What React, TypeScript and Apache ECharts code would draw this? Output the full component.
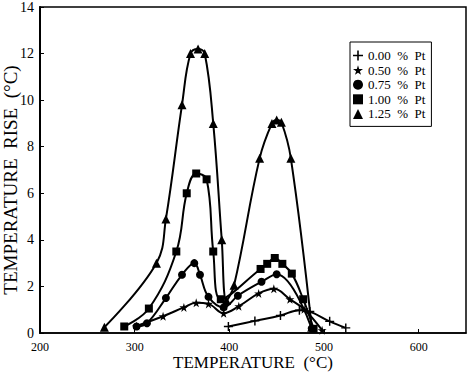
import React, { useEffect, useRef } from "react";
import * as echarts from "echarts";

const seriesNames = ["0.00  %  Pt", "0.50  %  Pt", "0.75  %  Pt", "1.00  %  Pt", "1.25  %  Pt"];

const pt000: [number, number][] = [
  [399, 0.28], [427, 0.52], [454, 0.75], [474, 0.98], [485, 0.92], [506, 0.5], [523, 0.22],
];
const pt050: [number, number][] = [
  [302, 0.3], [330, 0.72], [352, 1.1], [365, 1.3], [378, 1.25], [394, 0.85], [410, 1.15],
  [431, 1.7], [447, 1.9], [464, 1.45], [479, 1.02], [498, 0.12],
];
const pt075: [number, number][] = [
  [302, 0.28], [313, 0.42], [333, 1.5], [350, 2.5], [363, 3.0], [369, 2.5], [378, 1.55],
  [394, 1.1], [409, 1.6], [434, 2.2], [450, 2.52], [487, 0.2],
];
const pt100: [number, number][] = [
  [289, 0.28], [315, 1.05], [344, 3.5], [355, 6.0], [365, 6.85], [376, 6.6], [383, 3.5],
  [391, 1.45], [433, 2.75], [440, 2.97], [448, 3.22], [456, 2.97], [466, 2.55], [478, 1.45], [489, 0.18],
];
const pt125: [number, number][] = [
  [268, 0.25], [323, 3.0], [333, 4.9], [350, 9.8], [359, 12.0], [367, 12.2], [374, 12.0],
  [383, 9.0], [392, 4.0], [397, 1.4], [405, 2.05], [432, 7.5], [445, 9.0], [450, 9.15],
  [455, 9.05], [465, 7.5], [487, 0.25],
];

const xTicks = { min: 200, max: 650, interval: 100 };
const yTicks = { min: 0, max: 14, interval: 2 };

const PLUS = "path://M4.2,0 H5.8 V4.2 H10 V5.8 H5.8 V10 H4.2 V5.8 H0 V4.2 H4.2 Z";
const STAR =
  "path://M50,0 L61,35 L98,35 L68,57 L79,91 L50,70 L21,91 L32,57 L2,35 L39,35 Z";

const symbols = [PLUS, STAR, "circle", "rect", "triangle"];
const sizes = [9, 9, 8, 8, 9];
const datas = [pt000, pt050, pt075, pt100, pt125];

const FONT = "Liberation Serif";

export default function App() {
  const ref = useRef<HTMLDivElement>(null);
  useEffect(() => {
    if (!ref.current) return;
    const chart = echarts.init(ref.current, null, { renderer: "svg" });
    chart.setOption({
      animation: false,
      backgroundColor: "#fff",
      textStyle: { fontFamily: FONT, color: "#000" },
      grid: {
        left: 40, top: 7, right: 5, bottom: 41,
        outerBoundsMode: "none",
        containLabel: false,
        show: true, borderColor: "#000", borderWidth: 1.5,
      },
      legend: {
        left: 350, top: 42, orient: "vertical",
        data: seriesNames.map((n, i) => ({ name: n, icon: symbols[i] })),
        itemWidth: 10, itemHeight: 10, itemGap: 1.6,
        padding: [7, 6, 6, 3],
        borderColor: "#000", borderWidth: 1,
        textStyle: { fontFamily: FONT, fontSize: 13, lineHeight: 13, color: "#000" },
        itemStyle: { color: "#000" },
      },
      xAxis: {
        type: "value", min: xTicks.min, max: xTicks.max, interval: xTicks.interval,
        name: "TEMPERATURE  (°C)", nameLocation: "middle", nameGap: 21,
        nameMoveOverlap: false,
        nameTextStyle: { fontFamily: FONT, fontSize: 17, lineHeight: 17, color: "#000", verticalAlign: "top" },
        axisLine: { lineStyle: { color: "#000", width: 1.5 } },
        axisTick: { inside: true, length: 4, lineStyle: { color: "#000" } },
        axisLabel: { fontFamily: FONT, fontSize: 12, lineHeight: 12, color: "#000", margin: 8, showMaxLabel: false },
        splitLine: { show: false },
      },
      yAxis: {
        type: "value", min: yTicks.min, max: yTicks.max, interval: yTicks.interval,
        name: "TEMPERATURE  RISE  (°C)", nameLocation: "middle", nameGap: 20,
        nameMoveOverlap: false,
        nameRotate: 90,
        nameTextStyle: { fontFamily: FONT, fontSize: 19, color: "#000", padding: [0, 20, 0, 0] },
        axisLine: { lineStyle: { color: "#000", width: 2 } },
        axisTick: { inside: true, length: 4, lineStyle: { color: "#000" } },
        axisLabel: { fontFamily: FONT, fontSize: 14, color: "#000", margin: 6 },
        splitLine: { show: false },
      },
      series: datas.map((d, i) => ({
        name: seriesNames[i],
        type: "line",
        data: d,
        smooth: 0.4,
        symbol: symbols[i],
        symbolSize: sizes[i],
        showSymbol: true,
        lineStyle: { color: "#000", width: 2 },
        itemStyle: { color: "#000", borderColor: "#000", borderWidth: 0 },
        z: 2 + i,
      })),
    });
    return () => chart.dispose();
  }, []);
  return <div ref={ref} style={{ width: 471, height: 374, position: "absolute", left: 0, top: 0 }} />;
}
